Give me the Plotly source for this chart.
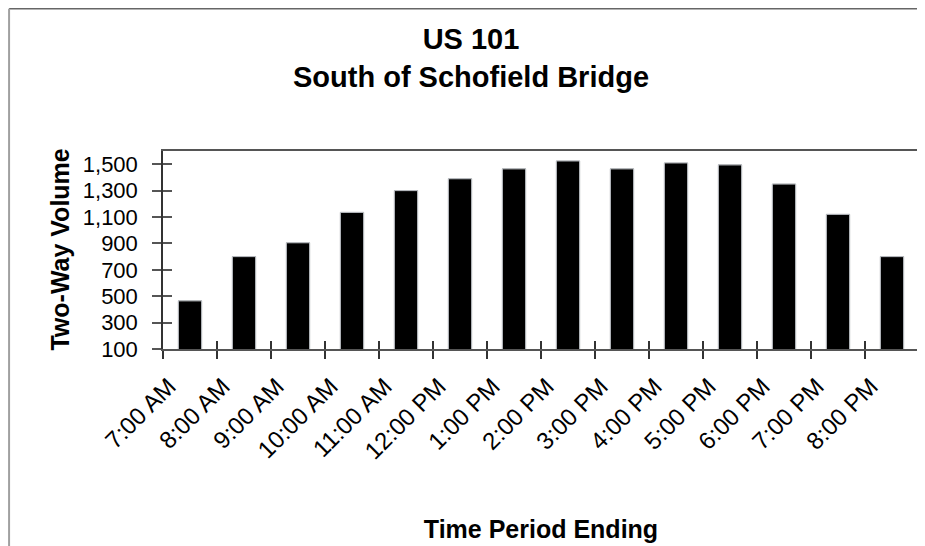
import plotly.graph_objects as go

categories = ["7:00 AM", "8:00 AM", "9:00 AM", "10:00 AM", "11:00 AM", "12:00 PM",
              "1:00 PM", "2:00 PM", "3:00 PM", "4:00 PM", "5:00 PM", "6:00 PM",
              "7:00 PM", "8:00 PM"]
volumes = [465, 800, 905, 1135, 1300, 1390, 1465, 1525, 1465, 1510, 1495, 1350, 1120, 800]
y_tick_values = [100, 300, 500, 700, 900, 1100, 1300, 1500]
y_range = [100, 1600]

FONT = "Arial, 'Liberation Sans', sans-serif"
AXIS_COLOR = "#555555"

# the page body adds an 8px margin, so the figure is sized to fit the 925x546 window
W, H = 917, 538

fig = go.Figure()
fig.add_trace(go.Bar(
    x=categories, y=volumes,
    marker=dict(color="black", line=dict(color="#8a8a8a", width=1)),
    showlegend=False,
))
# invisible copy on overlay axes, used only to draw the inner half of crossing ticks
fig.add_trace(go.Bar(
    x=categories, y=volumes, xaxis="x2", yaxis="y2",
    marker=dict(color="rgba(0,0,0,0)"), hoverinfo="skip", showlegend=False,
))

fig.update_layout(
    width=W, height=H,
    paper_bgcolor="white", plot_bgcolor="white",
    margin=dict(l=154.5, r=6, t=143, b=197, autoexpand=False),
    bargap=0.57,
    font=dict(family=FONT, color="black"),
    title=dict(
        text="<b>US 101</b><br><b>South of Schofield Bridge</b>",
        font=dict(size=29, family=FONT, color="black"),
        x=463 / W, xref="container", xanchor="center",
        y=1 - 41 / H, yref="container", yanchor="top",
    ),
    xaxis=dict(
        type="category", categoryorder="array", categoryarray=categories,
        showline=True, linecolor=AXIS_COLOR, linewidth=1.5, mirror=True,
        ticks="outside", tickson="boundaries", ticklen=8, tickcolor="#333333", tickwidth=1.5,
        tickangle=-45, tickfont=dict(size=24, family=FONT, color="black"),
        ticklabelstandoff=12, ticklabelshift=-21,
        showgrid=False, zeroline=False,
        title=dict(text="<b>Time Period Ending</b>", font=dict(size=25, family=FONT, color="black"),
                   standoff=57),
        automargin=False,
    ),
    yaxis=dict(
        range=y_range, tickvals=y_tick_values, tickformat=",",
        showline=True, linecolor="#333333", linewidth=1.5, mirror=True,
        ticks="outside", ticklen=9, tickcolor="#555555", tickwidth=1.5,
        tickfont=dict(size=22, family=FONT, color="black"),
        ticklabelstandoff=10,
        showgrid=False, zeroline=False,
        automargin=False,
    ),
    xaxis2=dict(
        overlaying="x", matches="x", anchor="y2", side="bottom",
        type="category", categoryorder="array", categoryarray=categories,
        ticks="inside", tickson="boundaries", ticklen=8, tickcolor="#333333", tickwidth=1.5,
        showticklabels=False, showgrid=False, zeroline=False, showline=False,
    ),
    yaxis2=dict(
        overlaying="y", matches="y", anchor="x2", side="left",
        tickvals=y_tick_values,
        ticks="inside", ticklen=9, tickcolor="#555555", tickwidth=1.5,
        showticklabels=False, showgrid=False, zeroline=False, showline=False,
    ),
    annotations=[
        dict(text="<b>Two-Way Volume</b>", textangle=-90,
             xref="paper", yref="paper", x=-0.1368, y=0.5,
             xanchor="center", yanchor="middle", showarrow=False,
             font=dict(size=25, family=FONT, color="black")),
    ],
    shapes=[
        dict(type="line", xref="paper", yref="paper",
             x0=-0.2036, x1=1.2, y0=1.7184, y1=1.7184,
             line=dict(color="#666666", width=1.5)),
        dict(type="line", xref="paper", yref="paper",
             x0=-0.2036, x1=-0.2036, y0=-1.2, y1=1.7184,
             line=dict(color="#a0a0a0", width=2)),
    ],
)

fig.write_html("out.html")
